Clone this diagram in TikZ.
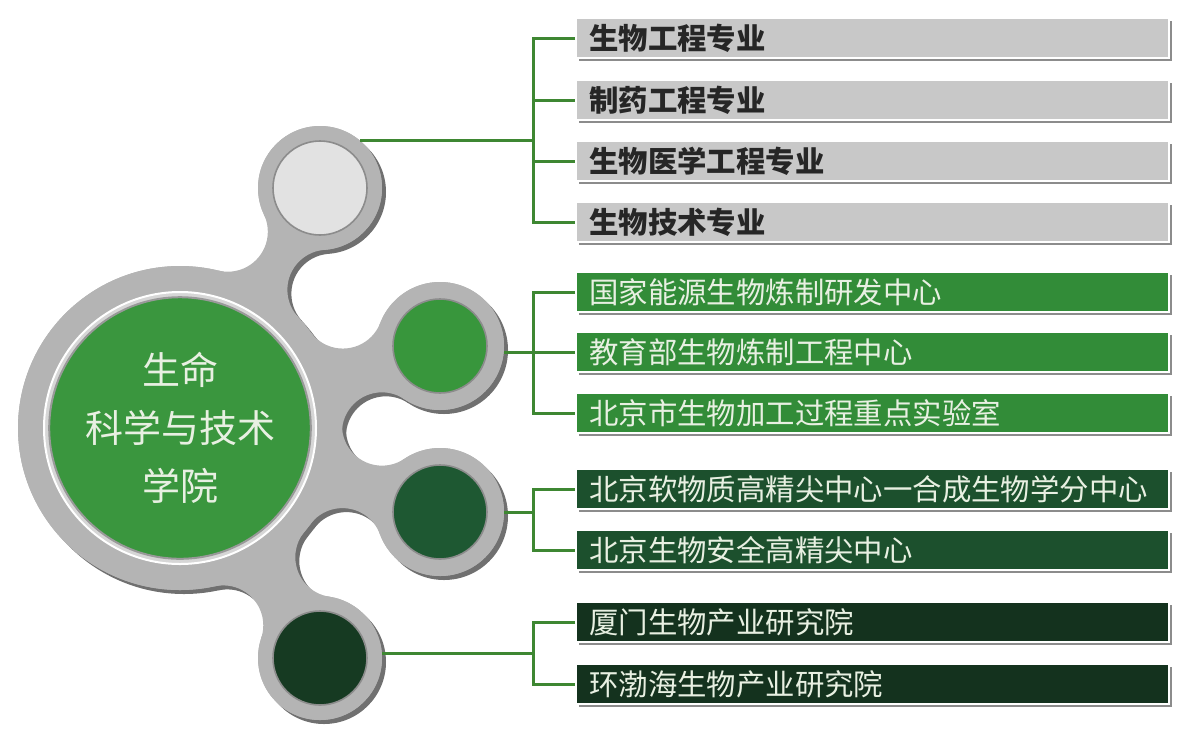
\documentclass[tikz,border=0pt]{standalone}
\usepackage{fontspec}
\setmainfont{Noto Sans CJK SC}
\usetikzlibrary{positioning,intersections,shadows,calc}

\definecolor{bodygray}{RGB}{180,180,180}
\definecolor{shadowgray}{RGB}{112,112,112}
\definecolor{ringlight}{RGB}{214,214,214}
\definecolor{hubgreen}{RGB}{58,150,62}
\definecolor{diskpale}{RGB}{226,226,226}
\definecolor{diskmid}{RGB}{56,150,60}
\definecolor{diskdark}{RGB}{30,88,50}
\definecolor{diskdeep}{RGB}{22,58,34}
\definecolor{barpale}{RGB}{200,200,200}
\definecolor{barmid}{RGB}{50,140,56}
\definecolor{bardark}{RGB}{28,80,45}
\definecolor{bardeep}{RGB}{20,50,30}
\definecolor{linkgreen}{RGB}{62,135,50}
\definecolor{txtpale}{RGB}{232,240,226}
\definecolor{txtdark}{RGB}{38,38,38}

\tikzset{
  bar/.style={anchor=west, minimum height=20pt, text width=283.5pt, inner xsep=6.5pt,
    inner ysep=0pt, align=left, draw=white, line width=1.2pt,
    drop shadow={shadow xshift=1.2pt, shadow yshift=-1.6pt, fill=black, opacity=.45},
    font=\fontsize{14.7}{16}\selectfont},
  palebar/.style={bar, fill=barpale, text=txtdark, font=\fontsize{14.7}{16}\selectfont\bfseries},
  ring/.style={circle, fill=bodygray, inner sep=0pt, outer sep=0pt},
  disk/.style={circle, minimum size=47pt, inner sep=0pt, draw=black!45, line width=0.8pt},
  link/.style={draw=linkgreen, line width=1.5pt}
}

% grey body: circles joined by necks with round fillets
\newcommand\drawblob[2]{%
  \foreach \c/\r in {tc/62,mc/64,dc/64,kc/62}{
    \foreach \f in {1,2}{
      \begin{scope}
        \clip ($(hubc)+#2$) -- ($(\c)+#2$) -- ($(\c\f)+#2$) -- cycle;
        \fill[#1, even odd rule] (-50,-50) rectangle (1250,800) ($(\c\f)+#2$) circle (40);
      \end{scope}
    }
    \draw[#1, line width=6pt] ($(hubc)+#2$) -- ($(\c)+#2$);
    \fill[#1] ($(\c)+#2$) circle (\r);
  }
  \fill[#1] ($(hubc)+#2$) circle (162);
}

\begin{document}
\begin{tikzpicture}[x=0.5pt,y=-0.5pt]
\useasboundingbox (0,0) rectangle (1177,729);

\coordinate (hubc) at (180,428);
\coordinate (tc) at (320,188);
\coordinate (mc) at (440,346);
\coordinate (dc) at (440,512);
\coordinate (kc) at (320,658);
\coordinate (spine) at (533,0);

\foreach \c/\r in {tc/62,mc/64,dc/64,kc/62}{
  \path[name path=hubpath] (hubc) circle (202);
  \path[name path=cpath] (\c) circle ({\r+40});
  \path[name intersections={of=hubpath and cpath, by={\c1,\c2}}];
}

\drawblob{shadowgray}{(4,4)}
\drawblob{bodygray}{(0,0)}

\node[ring, minimum size=162pt] (hubring) at (hubc) {};
\node[circle, minimum size=136pt, fill=ringlight, draw=white, line width=1pt] (hubrim) at (hubc) {};
\node[circle, minimum size=120pt, fill=hubgreen, draw=black!40, line width=1pt, text=txtpale,
  align=center, font=\fontsize{19}{29}\selectfont] (hub) at (hubc) {生命\\科学与技术\\学院};

\node[ring, minimum size=62pt] (ringT) at (tc) {};
\node[ring, minimum size=64pt] (ringM) at (mc) {};
\node[ring, minimum size=64pt] (ringD) at (dc) {};
\node[ring, minimum size=62pt] (ringK) at (kc) {};
\node[disk, fill=diskpale] (majors) at (tc) {};
\node[disk, fill=diskmid] (centres) at (mc) {};
\node[disk, fill=diskdark] (hubs) at (dc) {};
\node[disk, fill=diskdeep] (institutes) at (kc) {};

\node[palebar] (bar11) at (575,38) {生物工程专业};
\node[palebar] (bar12) at (575,100) {制药工程专业};
\node[palebar] (bar13) at (575,161) {生物医学工程专业};
\node[palebar] (bar14) at (575,222) {生物技术专业};
\node[bar, fill=barmid, text=txtpale] (bar21) at (575,292) {国家能源生物炼制研发中心};
\node[bar, fill=barmid, text=txtpale] (bar22) at (575,352) {教育部生物炼制工程中心};
\node[bar, fill=barmid, text=txtpale] (bar23) at (575,413) {北京市生物加工过程重点实验室};
\node[bar, fill=bardark, text=txtpale] (bar31) at (575,489) {北京软物质高精尖中心一合成生物学分中心};
\node[bar, fill=bardark, text=txtpale] (bar32) at (575,550) {北京生物安全高精尖中心};
\node[bar, fill=bardeep, text=txtpale] (bar41) at (575,622) {厦门生物产业研究院};
\node[bar, fill=bardeep, text=txtpale] (bar42) at (575,684) {环渤海生物产业研究院};

\coordinate (join4) at ($(bar41.west)!.5!(bar42.west)$);

\draw[link] (ringT.50) -- (ringT.50 -| spine);
\draw[link] (bar11.west) -- (bar11.west -| spine) -- (bar14.west -| spine) -- (bar14.west);
\draw[link] (bar12.west -| spine) -- (bar12.west) (bar13.west -| spine) -- (bar13.west);

\draw[link] (ringM.east |- bar22.west) -- (bar22.west);
\draw[link] (bar21.west) -- (bar21.west -| spine) -- (bar23.west -| spine) -- (bar23.west);

\draw[link] (ringD.east) -- (ringD.east -| spine);
\draw[link] (bar31.west) -- (bar31.west -| spine) -- (bar32.west -| spine) -- (bar32.west);

\draw[link] (ringK.east |- join4) -- (join4 -| spine);
\draw[link] (bar41.west) -- (bar41.west -| spine) -- (bar42.west -| spine) -- (bar42.west);
\end{tikzpicture}
\end{document}
